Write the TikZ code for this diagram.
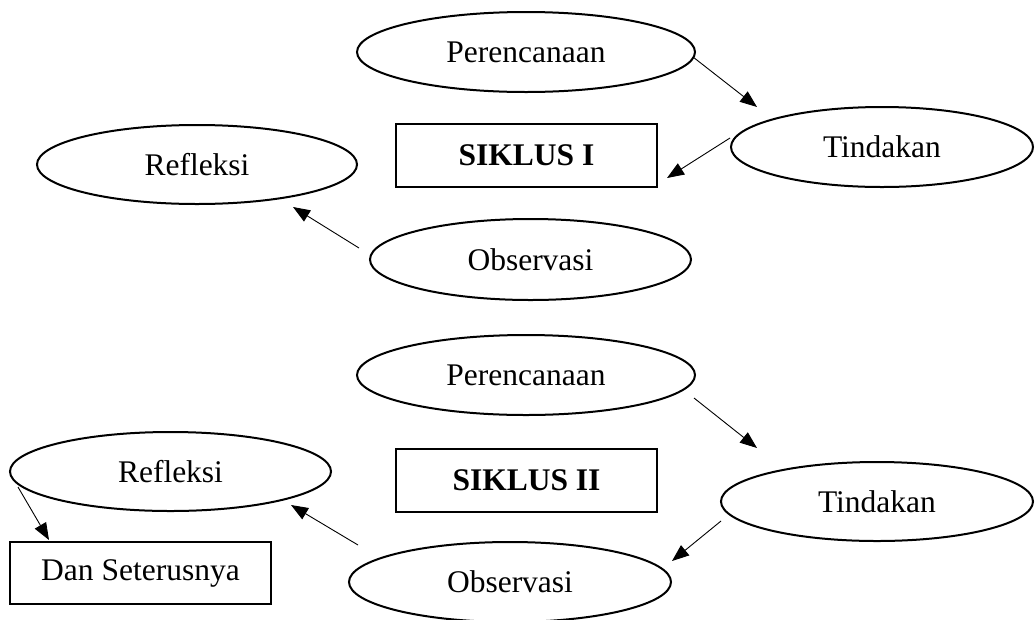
\documentclass[tikz,border=0pt]{standalone}
\usepackage{fontspec}
\setmainfont{Liberation Serif}
\usetikzlibrary{shapes.geometric,arrows.meta}
\begin{document}
\begin{tikzpicture}[x=1pt,y=-1pt,
  ell/.style={draw,ellipse,line width=2pt,inner sep=0pt,font=\fontsize{31.5}{36}\selectfont},
  boxn/.style={draw,rectangle,line width=2pt,inner sep=0pt,minimum width=261pt,minimum height=63pt,font=\fontsize{31.5}{36}\selectfont},
  arr/.style={line width=0.9pt,-{Triangle[length=17pt,width=13pt]}}]
\useasboundingbox (0,0) rectangle (1035,619);
% Siklus I
\node[ell,minimum width=338pt,minimum height=80pt] (P1) at (526,52) {Perencanaan};
\node[ell,minimum width=302pt,minimum height=80pt] (T1) at (882,147) {Tindakan};
\node[boxn,font=\fontsize{31.5}{36}\selectfont\bfseries] (S1) at (526.5,155.5) {SIKLUS I};
\node[ell,minimum width=320pt,minimum height=79pt] (R1) at (197,164.5) {Refleksi};
\node[ell,minimum width=321pt,minimum height=81pt] (O1) at (530.5,259.5) {Observasi};
\draw[arr] ([shift={(167,5)}]P1.center) -- ([shift={(-125,-40)}]T1.center);
\draw[arr] ([shift={(-152,-9)}]T1.center) -- ([shift={(140.5,22.5)}]S1.center);
\draw[arr] ([shift={(-171.5,-11.5)}]O1.center) -- ([shift={(96,42.5)}]R1.center);
% Siklus II
\node[ell,minimum width=338pt,minimum height=80pt] (P2) at (526,375) {Perencanaan};
\node[boxn,font=\fontsize{31.5}{36}\selectfont\bfseries] (S2) at (526.5,480.5) {SIKLUS II};
\node[ell,minimum width=312pt,minimum height=79pt] (T2) at (877,501.5) {Tindakan};
\node[ell,minimum width=322pt,minimum height=80pt] (O2) at (510,582) {Observasi};
\node[ell,minimum width=321pt,minimum height=79pt] (R2) at (170.5,471.5) {Refleksi};
\node[boxn,minimum height=62pt] (D2) at (140.5,573) {Dan Seterusnya};
\draw[arr] ([shift={(168,23)}]P2.center) -- ([shift={(-120,-53.5)}]T2.center);
\draw[arr] ([shift={(-156,19.5)}]T2.center) -- ([shift={(162,-21)}]O2.center);
\draw[arr] ([shift={(-152,-37)}]O2.center) -- ([shift={(120.5,33.5)}]R2.center);
\draw[arr] ([shift={(-152.5,15.5)}]R2.center) -- ([shift={(-91.5,-33)}]D2.center);
\end{tikzpicture}
\end{document}
